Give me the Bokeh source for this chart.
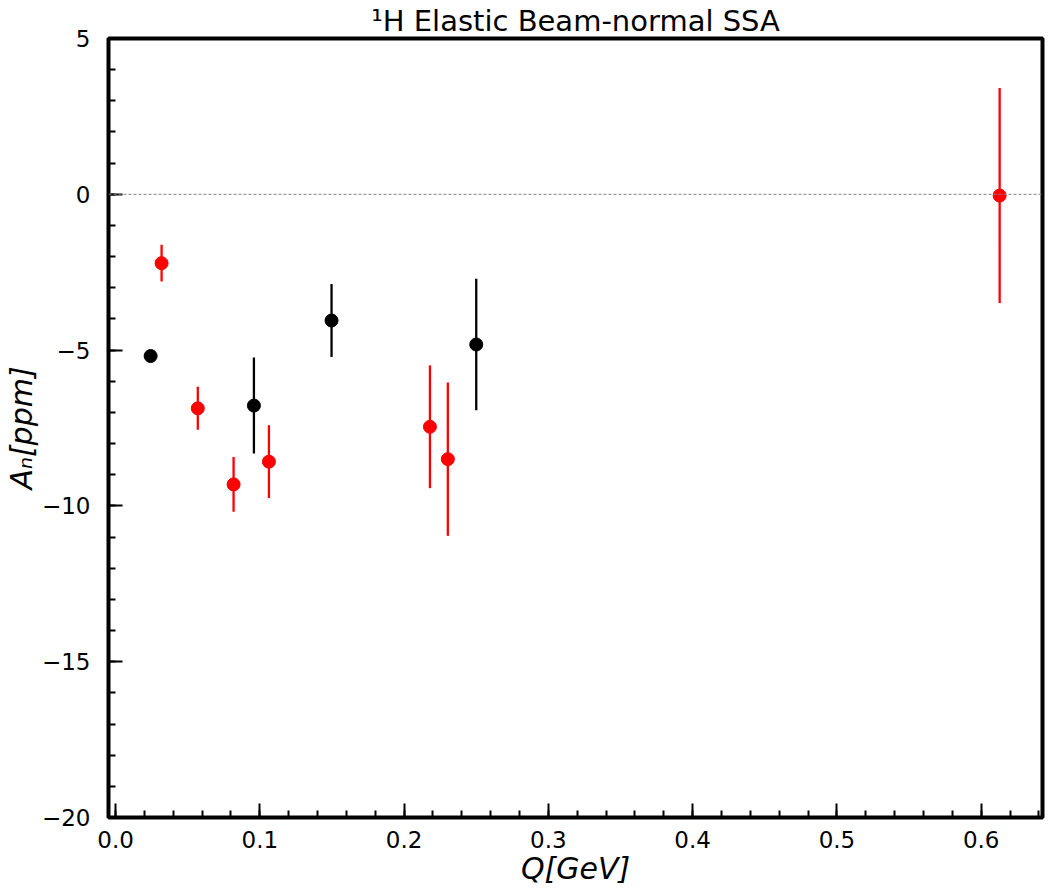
from bokeh.plotting import figure
from bokeh.models import Span, FixedTicker, CustomJSTickFormatter
from bokeh.embed import file_html
from bokeh.resources import INLINE

# ---- data ----
black_q = [0.0243, 0.0959, 0.1497, 0.2500]
black_an = [-5.19, -6.78, -4.05, -4.82]
black_err = [0.10, 1.54, 1.17, 2.11]

red_q = [0.0319, 0.0570, 0.0818, 0.1063, 0.2179, 0.2303, 0.6128]
red_an = [-2.21, -6.87, -9.31, -8.58, -7.46, -8.50, -0.04]
red_err = [0.59, 0.69, 0.88, 1.17, 1.97, 2.46, 3.45]

x_ticks = [0.0, 0.1, 0.2, 0.3, 0.4, 0.5, 0.6]
x_minor = [round(0.02 * i, 2) for i in range(0, 33)]
y_ticks = [-20, -15, -10, -5, 0, 5]
y_minor = list(range(-20, 6))

title_text = "\u00b9H Elastic Beam-normal SSA"
x_label = "Q[GeV]"
y_label = "A\u2099[ppm]"

FONT = "DejaVu Sans"

p = figure(width=1050, height=893, output_backend="svg", toolbar_location=None,
           x_range=(-0.0049, 0.6425), y_range=(-20, 5),
           min_border_left=108, min_border_right=8, min_border_top=37, min_border_bottom=76)

p.title.text = title_text
p.title.text_font = FONT
p.title.text_font_size = "29px"
p.title.text_font_style = "normal"
p.title.text_color = "black"
p.title.align = "center"
p.title.standoff = 2

p.grid.visible = False
p.outline_line_color = "black"
p.outline_line_width = 4
p.background_fill_color = "white"
p.border_fill_color = "white"

for ax in (p.xaxis[0], p.yaxis[0]):
    ax.axis_line_color = None
    ax.major_tick_in = 14
    ax.major_tick_out = 0
    ax.minor_tick_in = 7
    ax.minor_tick_out = 0
    ax.major_tick_line_width = 2
    ax.minor_tick_line_width = 2
    ax.major_tick_line_color = "black"
    ax.minor_tick_line_color = "black"
    ax.major_label_text_font = FONT
    ax.major_label_text_font_size = "23px"
    ax.major_label_text_color = "black"
    ax.axis_label_text_font = FONT
    ax.axis_label_text_font_size = "30px"
    ax.axis_label_text_font_style = "italic"
    ax.axis_label_text_color = "black"

p.xaxis[0].ticker = FixedTicker(ticks=x_ticks, minor_ticks=x_minor)
p.yaxis[0].ticker = FixedTicker(ticks=y_ticks, minor_ticks=y_minor)
p.xaxis[0].formatter = CustomJSTickFormatter(code="return tick.toFixed(1);")
p.yaxis[0].formatter = CustomJSTickFormatter(code="return tick.toFixed(0).replace('-', '\\u2212');")
p.xaxis[0].axis_label = x_label
p.yaxis[0].axis_label = y_label
p.xaxis[0].major_label_standoff = 13
p.yaxis[0].major_label_standoff = 18
p.xaxis[0].axis_label_standoff = 0
p.yaxis[0].axis_label_standoff = 0

p.add_layout(Span(location=0, dimension="width", line_color="gray",
                  line_width=1, line_dash="3 2"))

def lo(v, e):
    return [a - b for a, b in zip(v, e)]

def hi(v, e):
    return [a + b for a, b in zip(v, e)]

p.segment(x0=black_q, y0=lo(black_an, black_err), x1=black_q, y1=hi(black_an, black_err),
          line_color="black", line_width=2.3)
p.scatter(x=black_q, y=black_an, size=13, color="black")

p.segment(x0=red_q, y0=lo(red_an, red_err), x1=red_q, y1=hi(red_an, red_err),
          line_color="red", line_width=2.3)
p.scatter(x=red_q, y=red_an, size=13, color="red")

open("out.html", "w").write(file_html(p, INLINE))
